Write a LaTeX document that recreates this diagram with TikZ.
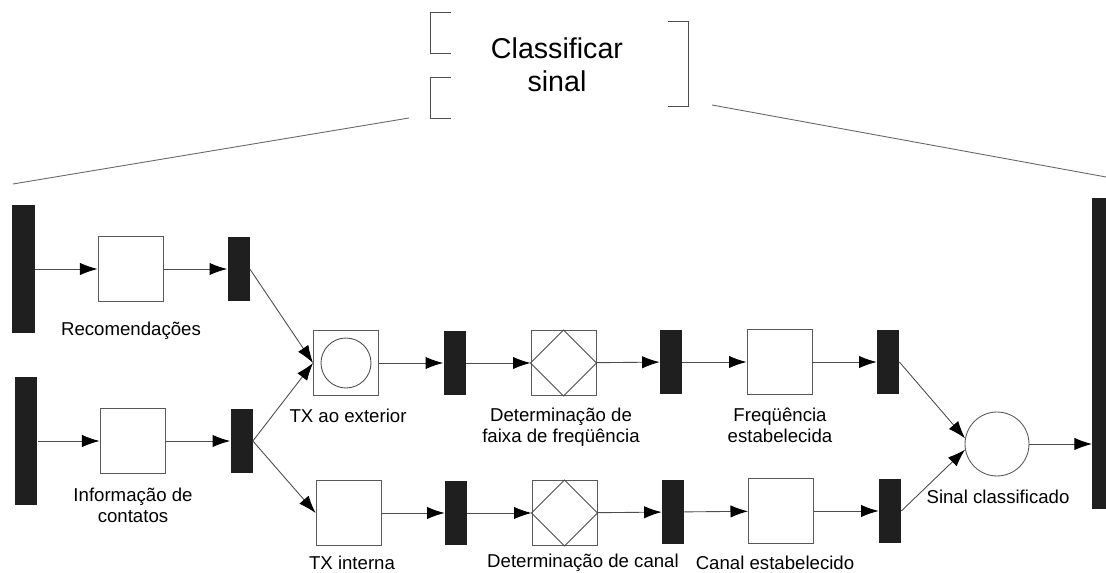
\documentclass[tikz,border=0pt]{standalone}
\usepackage{fontspec}
\setmainfont{Liberation Sans}
\usetikzlibrary{arrows.meta}

\tikzset{
  bar/.style={rectangle, fill=black!88, draw=none, inner sep=0pt, minimum width=0.44cm, minimum height=1.28cm},
  longbar/.style={bar, minimum width=0.46cm, minimum height=2.56cm},
  act/.style={rectangle, draw=black!65, line width=0.5pt, inner sep=0pt, minimum size=1.3cm},
  flow/.style={draw=black!70, line width=0.5pt, -{Latex[length=10pt,width=7pt,color=black]}},
  lbl/.style={font=\fontsize{10.6}{12}\selectfont, align=center, inner sep=0pt},
}

\begin{document}
\begin{tikzpicture}[x=0.02cm, y=-0.02cm]
  \useasboundingbox (0,0) rectangle (1106,573);

  % title of the refined activity
  \node [font=\fontsize{16.3}{18.8}\selectfont, align=center] (title) at (557,65) {Classificar\\sinal};
  \draw [black!70, line width=0.5pt] (451,12) -- (430,12) -- (430,53) -- (451,53);
  \draw [black!70, line width=0.5pt] (451,77) -- (430,77) -- (430,118) -- (451,118);
  \draw [black!70, line width=0.5pt] (668,21) -- (688,21) -- (688,106) -- (668,106);
  \coordinate (tl) at (409,118);
  \coordinate (tr) at (712,105);
  \coordinate (el) at (13,184);
  \coordinate (er) at (1106,177);
  \draw [black!60, line width=0.5pt] (tl) -- (el);
  \draw [black!60, line width=0.5pt] (tr) -- (er);

  % inputs
  \node [longbar] (in1) at (23.5,269) {};
  \node [longbar] (in2) at (26,441) {};
  \node [act] (rec) at (130.5,269) {};
  \node [act] (info) at (132.5,441) {};
  \node [bar] (b1) at (238.5,269) {};
  \node [bar] (b2) at (241.5,441) {};
  \node [lbl] (lrec) at (131,331) {Recomendações};
  \node [lbl] (linfo) at (133,505) {Informação de\\contatos};

  % upper branch
  \node [act] (txext) at (346,363) {};
  \draw [black!70, line width=0.5pt] (txext) circle [radius=25];
  \node [bar] (b3) at (454.5,363) {};
  \node [act] (faixa) at (563.5,363) {};
  \draw [black!70, line width=0.5pt] (faixa.north) -- (faixa.east) -- (faixa.south) -- (faixa.west) -- cycle;
  \node [bar] (b4) at (671,362) {};
  \node [act] (freq) at (779.5,362) {};
  \node [bar] (b5) at (888,362) {};
  \node [lbl] (ltxext) at (348,416) {TX ao exterior};
  \node [lbl] (lfaixa) at (561,427) {Determinação de\\faixa de freqüência};
  \node [lbl] (lfreq) at (780,425) {Freqüência\\estabelecida};

  % lower branch
  \node [act] (txint) at (348.5,513) {};
  \node [bar] (b6) at (456,513) {};
  \node [act] (canal) at (564.5,513) {};
  \draw [black!70, line width=0.5pt] (canal.north) -- (canal.east) -- (canal.south) -- (canal.west) -- cycle;
  \node [bar] (b7) at (673,512) {};
  \node [act] (canalest) at (781,511) {};
  \node [bar] (b8) at (890,511) {};
  \node [lbl] (ltxint) at (352,563) {TX interna};
  \node [lbl] (lcanal) at (583,563) {Determinação de canal};
  \node [lbl] (lcanalest) at (775,563) {Canal estabelecido};

  % output
  \node [circle, draw=black!65, line width=0.5pt, minimum size=1.28cm, inner sep=0pt] (sinal) at (997,444) {};
  \node [lbl] (lsinal) at (998,497) {Sinal classificado};
  \node [rectangle, fill=black!88, inner sep=0pt, minimum width=0.5cm, minimum height=6.22cm, anchor=north west] (out) at (1092,198) {};

  % flows
  \draw [flow] (in1.east |- rec) -- (rec);
  \draw [flow] (rec) -- (b1);
  \draw [flow] (in2.east |- info) -- (info);
  \draw [flow] (info) -- (b2);
  \draw [flow] (b1.east) -- (txext.west);
  \draw [flow] (b2.east) -- (txext.west);
  \draw [flow] (b2.east) -- (txint.west);
  \draw [flow] (txext) -- (b3);
  \draw [flow] (b3) -- (faixa);
  \draw [flow] (faixa) -- (b4);
  \draw [flow] (b4) -- (freq);
  \draw [flow] (freq) -- (b5);
  \draw [flow] (txint) -- (b6);
  \draw [flow] (b6) -- (canal);
  \draw [flow] (canal) -- (b7);
  \draw [flow] (b7) -- (canalest);
  \draw [flow] (canalest) -- (b8);
  \draw [flow] (b5.east) -- (sinal.170);
  \draw [flow] (b8.east) -- (sinal.190);
  \draw [flow] (sinal.east) -- (sinal.east -| out.west);
\end{tikzpicture}
\end{document}
